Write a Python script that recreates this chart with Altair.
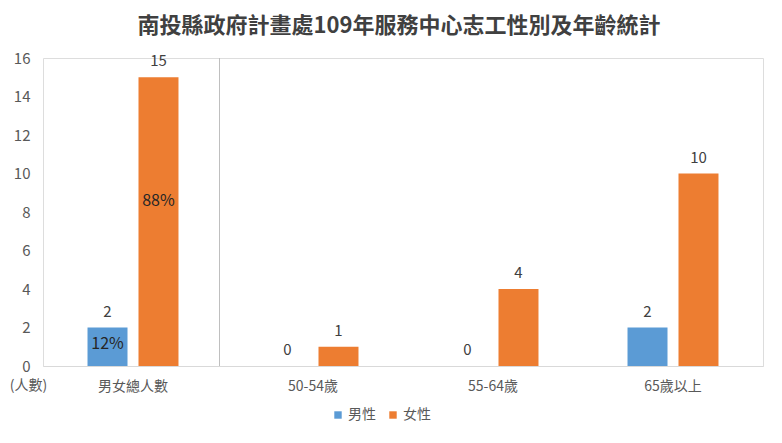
import altair as alt
import pandas as pd

title_text = "南投縣政府計畫處109年服務中心志工性別及年齡統計"
categories = ["男女總人數", "50-54歲", "55-64歲", "65歲以上"]
genders = ["男性", "女性"]
male = [2, 0, 0, 2]
female = [15, 1, 4, 10]
male_pct = ["12%", "", "", ""]
female_pct = ["88%", "", "", ""]
colors = ["#5B9BD5", "#ED7D31"]
y_ticks = [0, 2, 4, 6, 8, 10, 12, 14, 16]

rows = []
for i, c in enumerate(categories):
    rows.append({"category": c, "gender": "男性", "value": male[i], "pct": male_pct[i]})
    rows.append({"category": c, "gender": "女性", "value": female[i], "pct": female_pct[i]})
df = pd.DataFrame(rows)

FONT = "Noto Sans CJK TC"
GRAY = "#595959"

x_enc = alt.X(
    "category:N",
    sort=categories,
    scale=alt.Scale(paddingInner=0, paddingOuter=0),
    axis=alt.Axis(title=None, labelAngle=0, domainColor="#d9d9d9", ticks=False,
                  labelFontSize=14, labelColor=GRAY, labelPadding=13, labelFont=FONT),
)
xo_enc = alt.XOffset("gender:N", sort=genders,
                     scale=alt.Scale(paddingInner=0.2157, paddingOuter=0.873))
y_axis = alt.Axis(values=y_ticks, tickCount=9, grid=False, domain=False, ticks=False,
                  labelOverlap=False,
                  labelFontSize=15, labelColor=GRAY, labelPadding=13, labelFont=FONT,
                  title="(人數)", titleAngle=0, titleX=-15, titleY=327,
                  titleAlign="center", titleBaseline="middle", titleFontWeight="normal",
                  titleFontSize=14, titleColor=GRAY, titleFont=FONT)
y_scale = alt.Scale(domain=[0, 16], nice=False)

base = alt.Chart(df).encode(x=x_enc, xOffset=xo_enc)

bars = base.mark_bar().encode(
    y=alt.Y("value:Q", scale=y_scale, axis=y_axis),
    color=alt.Color("gender:N", sort=genders,
                    scale=alt.Scale(domain=genders, range=colors),
                    legend=alt.Legend(title=None, orient="none", direction="horizontal",
                                      legendX=288, legendY=350, symbolType="square",
                                      symbolSize=55, symbolStrokeWidth=0,
                                      labelFontSize=14, labelColor=GRAY, labelFont=FONT,
                                      columnPadding=10, labelOffset=3)),
)

labels = base.mark_text(baseline="bottom", dy=-8, fontSize=15, color="#404040", font=FONT).encode(
    y=alt.Y("value:Q", scale=y_scale, axis=y_axis), text="value:Q"
)

pcts = base.transform_filter("datum.pct != ''").transform_calculate(
    value="datum.value * 0.57"
).mark_text(baseline="middle", fontSize=16, color="#262626", font=FONT).encode(
    y=alt.Y("value:Q", scale=y_scale, axis=y_axis), text="pct:N"
)

sep = alt.Chart(pd.DataFrame({"k": [0]})).mark_rule(color="#bfbfbf", strokeWidth=1).encode(
    x=alt.value(176.5), y=alt.value(0), y2=alt.value(308)
)

chart = alt.layer(bars, labels, pcts, sep).properties(
    width=720, height=308,
    title=alt.Title(title_text, fontSize=22, fontWeight="bold", color="#404040",
                    anchor="middle", offset=13, dx=-4, font=FONT),
    autosize=alt.AutoSizeParams(type="none"),
    padding={"left": 35, "top": 50, "right": 11, "bottom": 69},
).configure_view(stroke=None).configure(font=FONT, background="white")

chart.save("out.html", embed_options={"renderer": "svg", "actions": False})
